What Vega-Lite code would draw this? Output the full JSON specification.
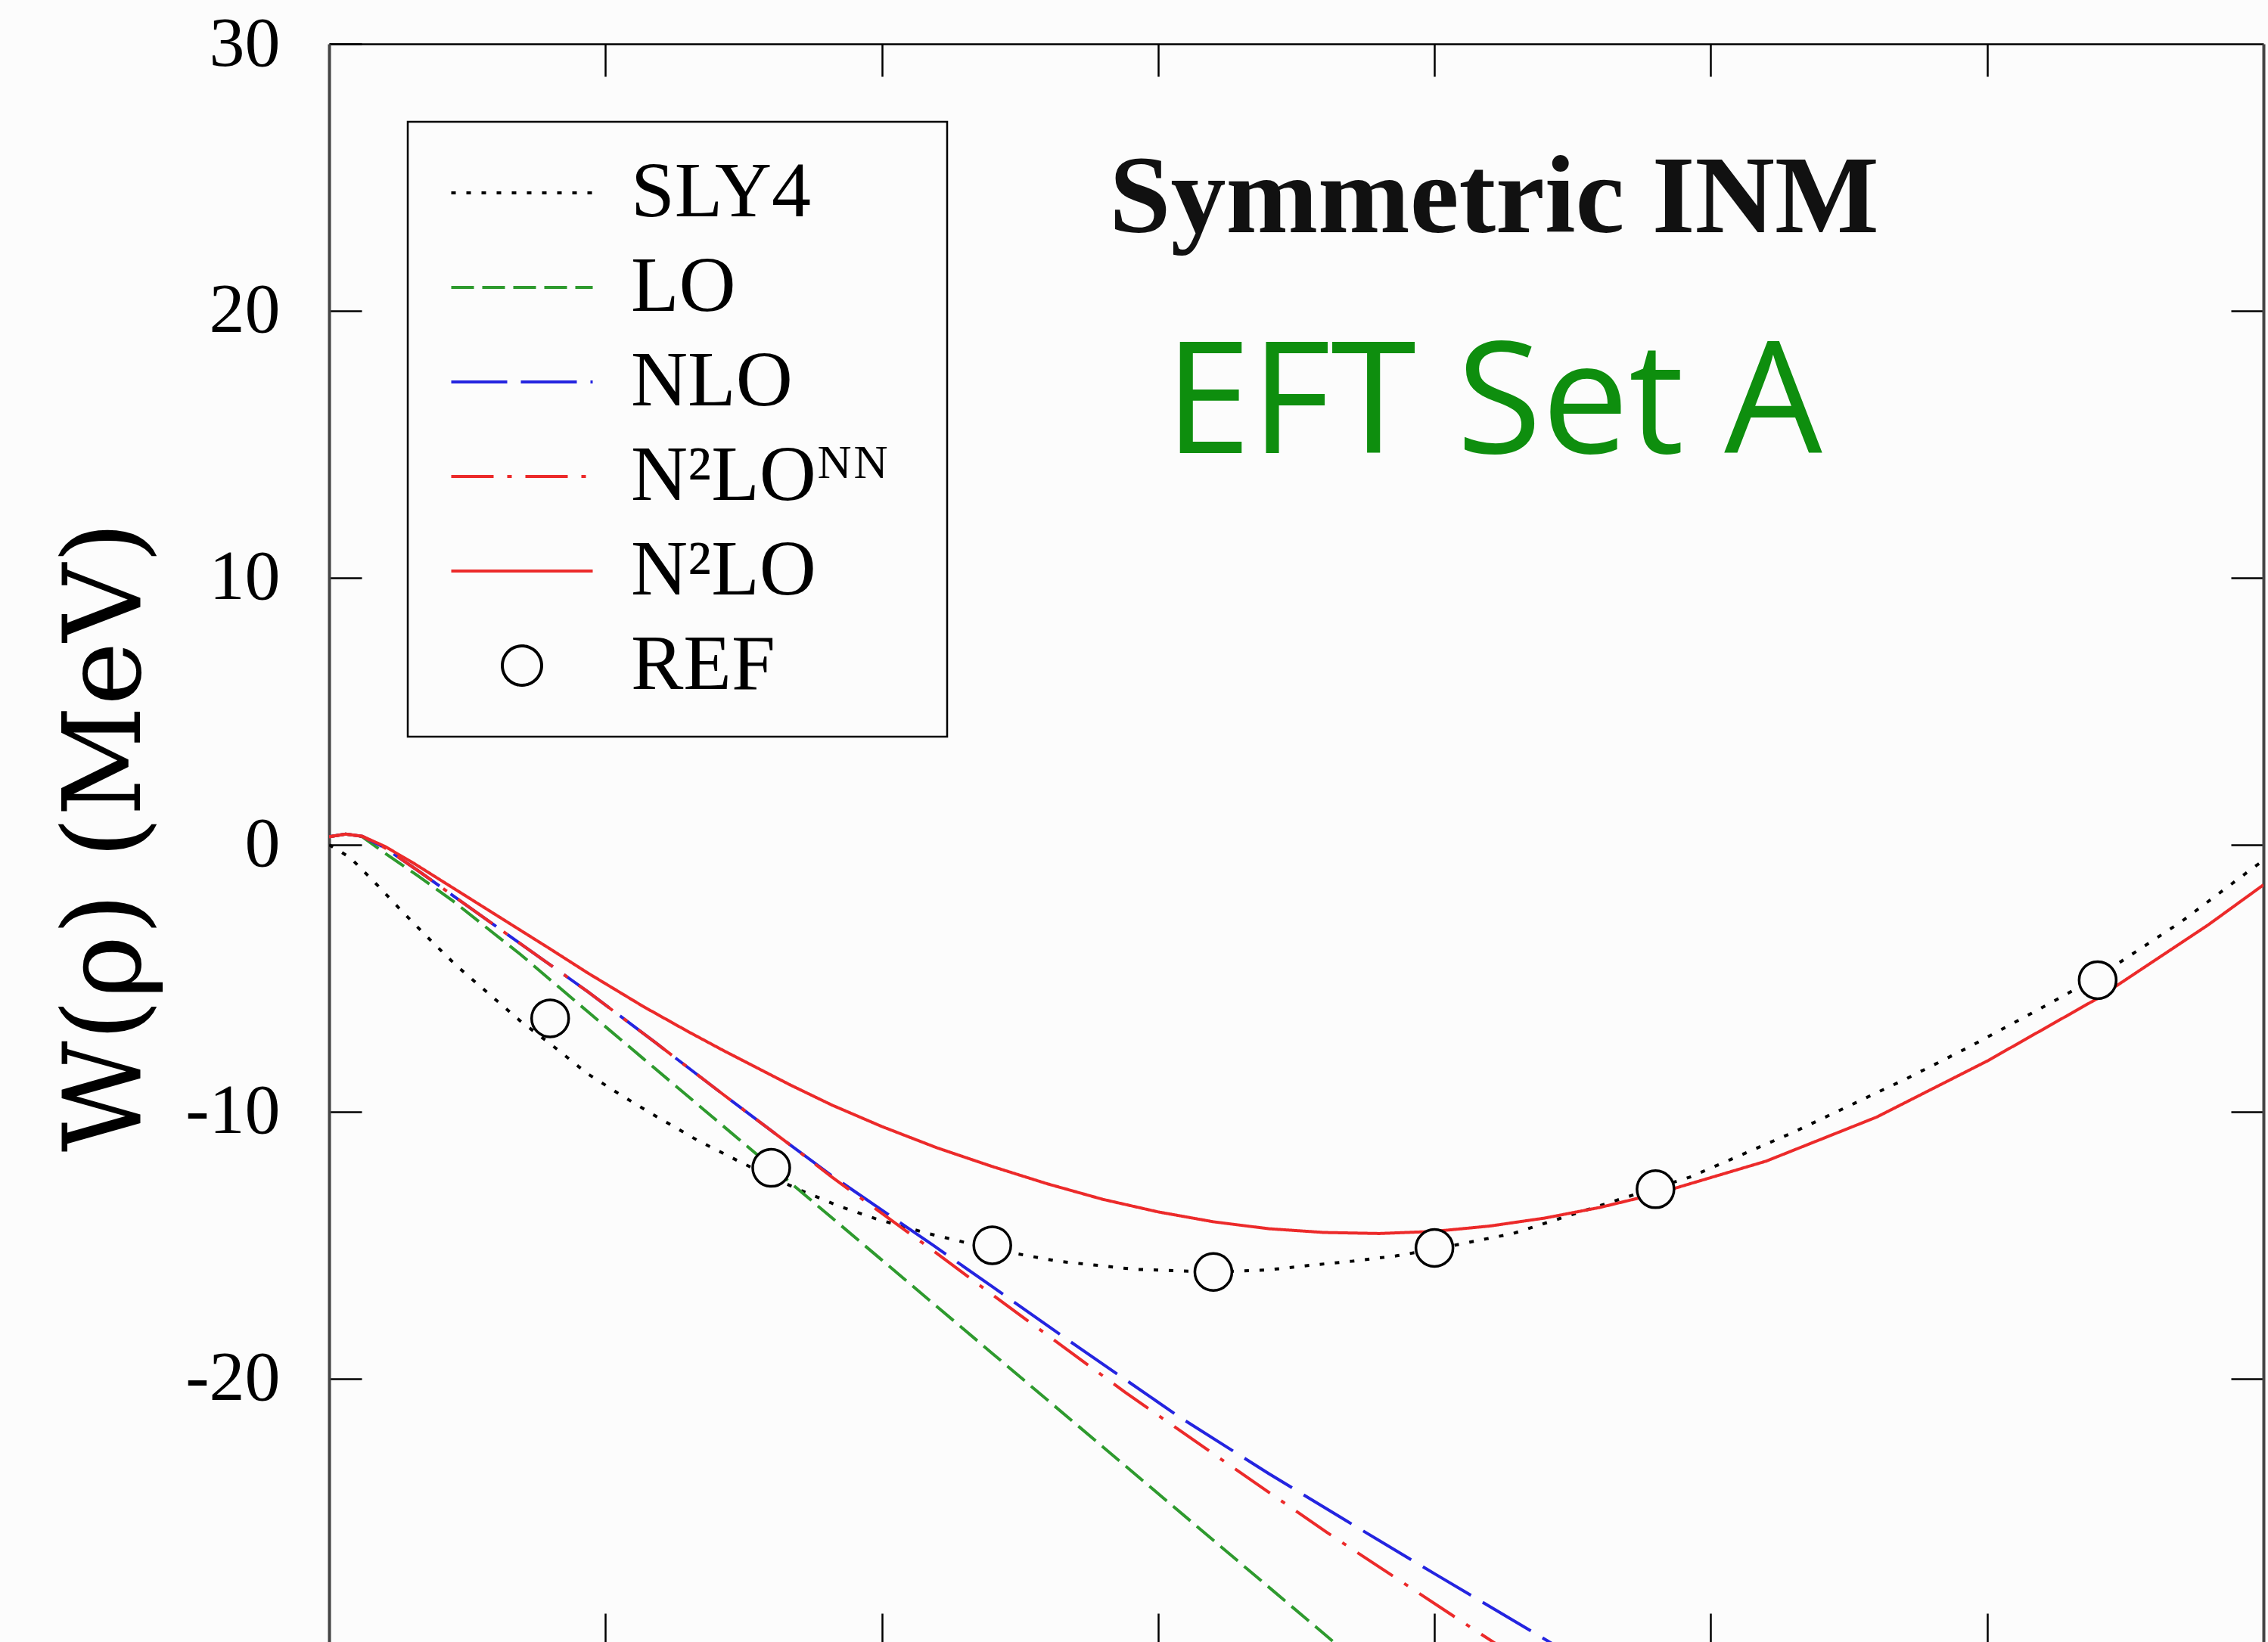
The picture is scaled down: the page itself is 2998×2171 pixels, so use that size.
{
  "$schema": "https://vega.github.io/schema/vega-lite/v6.json",
  "width": 2557,
  "height": 2113,
  "autosize": {"type": "none"},
  "padding": {"left": 435, "top": 58, "right": 6, "bottom": 0},
  "background": "#fcfcfc",
  "config": {
    "view": {"stroke": null},
    "font": "Liberation Serif",
    "axis": {"labelFont": "Liberation Serif"},
    "legend": {"labelFont": "Liberation Serif"}
  },
  "resolve": {"axis": {"x": "independent", "y": "independent"}},
  "layer": [
    {
      "data": {"values": [
        {"s":"SLY4","x":0,"y":0},{"s":"SLY4","x":0.00375,"y":-0.47},{"s":"SLY4","x":0.008,"y":-1.35},{"s":"SLY4","x":0.0132,"y":-2.49},{"s":"SLY4","x":0.018,"y":-3.5},{"s":"SLY4","x":0.023,"y":-4.52},{"s":"SLY4","x":0.0346,"y":-6.6},{"s":"SLY4","x":0.04,"y":-7.45},{"s":"SLY4","x":0.0468,"y":-8.58},{"s":"SLY4","x":0.053,"y":-9.4},{"s":"SLY4","x":0.059,"y":-10.15},{"s":"SLY4","x":0.0665,"y":-11.05},{"s":"SLY4","x":0.0741,"y":-11.85},{"s":"SLY4","x":0.08,"y":-12.45},{"s":"SLY4","x":0.086,"y":-13.0},{"s":"SLY4","x":0.0925,"y":-13.55},{"s":"SLY4","x":0.0988,"y":-14.0},{"s":"SLY4","x":0.1084,"y":-14.56},{"s":"SLY4","x":0.1152,"y":-14.9},{"s":"SLY4","x":0.12,"y":-15.15},{"s":"SLY4","x":0.132,"y":-15.6},{"s":"SLY4","x":0.1458,"y":-15.9},{"s":"SLY4","x":0.16,"y":-16.0},{"s":"SLY4","x":0.17,"y":-15.92},{"s":"SLY4","x":0.1775,"y":-15.75},{"s":"SLY4","x":0.185,"y":-15.6},{"s":"SLY4","x":0.193,"y":-15.4},{"s":"SLY4","x":0.2,"y":-15.15},{"s":"SLY4","x":0.2142,"y":-14.56},{"s":"SLY4","x":0.2279,"y":-13.65},{"s":"SLY4","x":0.24,"y":-12.85},{"s":"SLY4","x":0.2462,"y":-12.45},{"s":"SLY4","x":0.2646,"y":-10.8},{"s":"SLY4","x":0.2855,"y":-8.75},{"s":"SLY4","x":0.2963,"y":-7.62},{"s":"SLY4","x":0.3085,"y":-6.26},{"s":"SLY4","x":0.32,"y":-4.95},{"s":"SLY4","x":0.335,"y":-2.9},{"s":"SLY4","x":0.3488,"y":-0.76},{"s":"SLY4","x":0.35,"y":-0.6},
        {"s":"LO","x":0,"y":0.3},{"s":"LO","x":0.003,"y":0.4},{"s":"LO","x":0.006,"y":0.3},{"s":"LO","x":0.01,"y":-0.3},{"s":"LO","x":0.016,"y":-1.15},{"s":"LO","x":0.0224,"y":-2.1},{"s":"LO","x":0.03,"y":-3.35},{"s":"LO","x":0.0346,"y":-4.1},{"s":"LO","x":0.0468,"y":-6.25},{"s":"LO","x":0.0568,"y":-8.0},{"s":"LO","x":0.08,"y":-12.05},{"s":"LO","x":0.1,"y":-15.55},{"s":"LO","x":0.12,"y":-19.05},{"s":"LO","x":0.14,"y":-22.55},{"s":"LO","x":0.16,"y":-26.05},{"s":"LO","x":0.18,"y":-29.55},{"s":"LO","x":0.19,"y":-31.3},
        {"s":"NLO","x":0,"y":0.3},{"s":"NLO","x":0.003,"y":0.4},{"s":"NLO","x":0.006,"y":0.32},{"s":"NLO","x":0.01,"y":-0.1},{"s":"NLO","x":0.0163,"y":-1.0},{"s":"NLO","x":0.0224,"y":-1.9},{"s":"NLO","x":0.0346,"y":-3.7},{"s":"NLO","x":0.0468,"y":-5.5},{"s":"NLO","x":0.059,"y":-7.4},{"s":"NLO","x":0.0713,"y":-9.35},{"s":"NLO","x":0.0835,"y":-11.25},{"s":"NLO","x":0.091,"y":-12.4},{"s":"NLO","x":0.1093,"y":-15.0},{"s":"NLO","x":0.12,"y":-16.55},{"s":"NLO","x":0.133,"y":-18.45},{"s":"NLO","x":0.154,"y":-21.45},{"s":"NLO","x":0.17,"y":-23.55},{"s":"NLO","x":0.1855,"y":-25.5},{"s":"NLO","x":0.2,"y":-27.3},{"s":"NLO","x":0.2179,"y":-29.5},{"s":"NLO","x":0.23,"y":-31.0},
        {"s":"N²LOᴺᴺ","x":0,"y":0.3},{"s":"N²LOᴺᴺ","x":0.003,"y":0.4},{"s":"N²LOᴺᴺ","x":0.006,"y":0.32},{"s":"N²LOᴺᴺ","x":0.01,"y":-0.1},{"s":"N²LOᴺᴺ","x":0.0163,"y":-1.0},{"s":"N²LOᴺᴺ","x":0.0224,"y":-1.9},{"s":"N²LOᴺᴺ","x":0.0346,"y":-3.7},{"s":"N²LOᴺᴺ","x":0.0468,"y":-5.5},{"s":"N²LOᴺᴺ","x":0.059,"y":-7.4},{"s":"N²LOᴺᴺ","x":0.0713,"y":-9.35},{"s":"N²LOᴺᴺ","x":0.0835,"y":-11.25},{"s":"N²LOᴺᴺ","x":0.091,"y":-12.45},{"s":"N²LOᴺᴺ","x":0.1093,"y":-15.2},{"s":"N²LOᴺᴺ","x":0.12,"y":-16.85},{"s":"N²LOᴺᴺ","x":0.144,"y":-20.5},{"s":"N²LOᴺᴺ","x":0.1613,"y":-23.0},{"s":"N²LOᴺᴺ","x":0.1805,"y":-25.75},{"s":"N²LOᴺᴺ","x":0.205,"y":-29.1},{"s":"N²LOᴺᴺ","x":0.215,"y":-30.45},
        {"s":"N²LO","x":0,"y":0.3},{"s":"N²LO","x":0.003,"y":0.4},{"s":"N²LO","x":0.006,"y":0.32},{"s":"N²LO","x":0.01,"y":-0.05},{"s":"N²LO","x":0.015,"y":-0.65},{"s":"N²LO","x":0.02,"y":-1.3},{"s":"N²LO","x":0.025,"y":-1.95},{"s":"N²LO","x":0.03,"y":-2.6},{"s":"N²LO","x":0.035,"y":-3.25},{"s":"N²LO","x":0.04,"y":-3.9},{"s":"N²LO","x":0.0468,"y":-4.8},{"s":"N²LO","x":0.0568,"y":-6.05},{"s":"N²LO","x":0.065,"y":-7.0},{"s":"N²LO","x":0.0713,"y":-7.7},{"s":"N²LO","x":0.0835,"y":-9.0},{"s":"N²LO","x":0.091,"y":-9.75},{"s":"N²LO","x":0.1,"y":-10.55},{"s":"N²LO","x":0.11,"y":-11.35},{"s":"N²LO","x":0.12,"y":-12.05},{"s":"N²LO","x":0.13,"y":-12.7},{"s":"N²LO","x":0.14,"y":-13.28},{"s":"N²LO","x":0.15,"y":-13.75},{"s":"N²LO","x":0.16,"y":-14.12},{"s":"N²LO","x":0.17,"y":-14.38},{"s":"N²LO","x":0.18,"y":-14.52},{"s":"N²LO","x":0.19,"y":-14.56},{"s":"N²LO","x":0.2,"y":-14.48},{"s":"N²LO","x":0.21,"y":-14.28},{"s":"N²LO","x":0.22,"y":-13.98},{"s":"N²LO","x":0.23,"y":-13.58},{"s":"N²LO","x":0.24,"y":-13.08},{"s":"N²LO","x":0.26,"y":-11.85},{"s":"N²LO","x":0.28,"y":-10.2},{"s":"N²LO","x":0.3,"y":-8.1},{"s":"N²LO","x":0.32,"y":-5.75},{"s":"N²LO","x":0.34,"y":-3.0},{"s":"N²LO","x":0.35,"y":-1.5}
      ]},
      "mark": {"type": "line", "clip": true, "strokeWidth": 4},
      "encoding": {
        "x": {"field": "x", "type": "quantitative",
          "scale": {"domain": [0, 0.35], "nice": false, "zero": false},
          "axis": {"orient": "bottom", "values": [0.05, 0.1, 0.15, 0.2, 0.25, 0.3], "tickSize": -38, "tickWidth": 2.5, "tickColor": "black", "labels": false, "domain": false, "grid": false, "title": null}},
        "y": {"field": "y", "type": "quantitative",
          "scale": {"domain": [-29.86, 30], "nice": false, "zero": false},
          "axis": {"orient": "left", "values": [-20, -10, 0, 10, 20, 30], "tickSize": -43, "tickWidth": 2.5, "tickColor": "black",
            "domain": true, "domainColor": "#444444", "domainWidth": 4, "grid": false,
            "labelExpr": "'' + datum.value", "labelFont": "Liberation Serif", "labelFontSize": 94, "labelColor": "black", "labelPadding": 108,
            "labelFlush": false, "labelBound": false, "labelOverlap": false, "labelBaseline": "middle", "labelAlign": "right",
            "title": null}},
        "color": {"field": "s", "type": "nominal",
          "scale": {"domain": ["SLY4", "LO", "NLO", "N²LOᴺᴺ", "N²LO", "REF"], "range": ["#000000", "#2e9a2e", "#2424e0", "#ec2a2a", "#ec2a2a", "#000000"]},
          "legend": {"title": null, "orient": "none", "legendX": 104, "legendY": 103, "direction": "vertical",
            "padding": 42, "symbolOffset": 57, "labelOffset": 92, "rowPadding": 21,
            "strokeColor": "black", "fillColor": "#fcfcfc",
            "labelFont": "Liberation Serif", "labelFontSize": 104, "labelColor": "black", "labelLimit": 900, "labelBaseline": "middle",
            "labelExpr": "datum.label + '\u00a0\u200a\u200b'",
            "symbolSize": 2186, "symbolStrokeWidth": 4,
            "encode": {
              "legend": {"update": {"strokeWidth": {"value": 2.5}}},
              "symbols": {"update": {
                "shape": {"signal": "datum.value === 'REF' ? 'circle' : 'M-4,0L4,0'"},
                "size": {"signal": "datum.value === 'REF' ? 2700 : 2186"},
                "strokeDash": {"signal": "datum.value === 'SLY4' ? [6,14] : datum.value === 'LO' ? [30,9.5] : datum.value === 'NLO' ? [74,18] : datum.value === 'N²LOᴺᴺ' ? [6,18,56,18] : [1,0]"},
                "stroke": {"scale": "color", "field": "value"},
                "fill": {"value": "transparent"},
                "strokeWidth": {"value": 4},
                "opacity": {"value": 1}
              }}
            }}},
        "strokeDash": {"field": "s", "type": "nominal",
          "scale": {"domain": ["SLY4", "LO", "NLO", "N²LOᴺᴺ", "N²LO", "REF"], "range": [[6, 14], [30, 11], [74, 18], [56, 18, 6, 18], [1, 0], [1, 0]]},
          "legend": null}
      }
    },
    {
      "data": {"values": [
        {"x": 0.04, "y": -6.5}, {"x": 0.08, "y": -12.1}, {"x": 0.12, "y": -15.0}, {"x": 0.16, "y": -16.0}, {"x": 0.2, "y": -15.1}, {"x": 0.24, "y": -12.9}, {"x": 0.32, "y": -5.07}
      ]},
      "mark": {"type": "point", "shape": "circle", "filled": true, "fill": "#fcfcfc", "stroke": "black", "strokeWidth": 3.5, "size": 2400, "opacity": 1, "fillOpacity": 1},
      "encoding": {
        "x": {"field": "x", "type": "quantitative",
          "scale": {"domain": [0, 0.35], "nice": false, "zero": false},
          "axis": {"orient": "top", "values": [0.05, 0.1, 0.15, 0.2, 0.25, 0.3], "tickSize": -43, "tickWidth": 2.5, "tickColor": "black", "labels": false, "domain": true, "domainColor": "black", "domainWidth": 2.5, "grid": false, "title": null}},
        "y": {"field": "y", "type": "quantitative",
          "scale": {"domain": [-29.86, 30], "nice": false, "zero": false},
          "axis": {"orient": "right", "values": [-20, -10, 0, 10, 20], "tickSize": -43, "tickWidth": 2.5, "tickColor": "black", "labels": false, "domain": true, "domainColor": "#444444", "domainWidth": 4, "grid": false, "title": null}}
      }
    },
    {
      "data": {"values": [{"t": "W(ρ) (MeV)"}]},
      "mark": {"type": "text", "font": "DejaVu Serif", "fontSize": 143, "angle": 270, "align": "center", "baseline": "alphabetic", "color": "black", "clip": false},
      "encoding": {
        "x": {"datum": -0.0342, "type": "quantitative", "scale": {"domain": [0, 0.35], "nice": false, "zero": false}, "axis": null},
        "y": {"datum": 0.3, "type": "quantitative", "scale": {"domain": [-29.86, 30], "nice": false, "zero": false}, "axis": null},
        "text": {"field": "t"}
      }
    },
    {
      "data": {"values": [{"t": "Symmetric INM"}]},
      "mark": {"type": "text", "font": "Liberation Serif", "fontWeight": "bold", "fontSize": 146, "align": "center", "baseline": "alphabetic", "color": "#111111"},
      "encoding": {
        "x": {"datum": 0.2108, "type": "quantitative", "scale": {"domain": [0, 0.35], "nice": false, "zero": false}, "axis": null},
        "y": {"datum": 22.95, "type": "quantitative", "scale": {"domain": [-29.86, 30], "nice": false, "zero": false}, "axis": null},
        "text": {"field": "t"}
      }
    },
    {
      "data": {"values": [{"t": "EFT Set A"}]},
      "mark": {"type": "text", "font": "Open Sans", "fontSize": 205, "align": "center", "baseline": "alphabetic", "color": "#0e8e0e"},
      "encoding": {
        "x": {"datum": 0.2107, "type": "quantitative", "scale": {"domain": [0, 0.35], "nice": false, "zero": false}, "axis": null},
        "y": {"datum": 14.67, "type": "quantitative", "scale": {"domain": [-29.86, 30], "nice": false, "zero": false}, "axis": null},
        "text": {"field": "t"}
      }
    }
  ]
}
